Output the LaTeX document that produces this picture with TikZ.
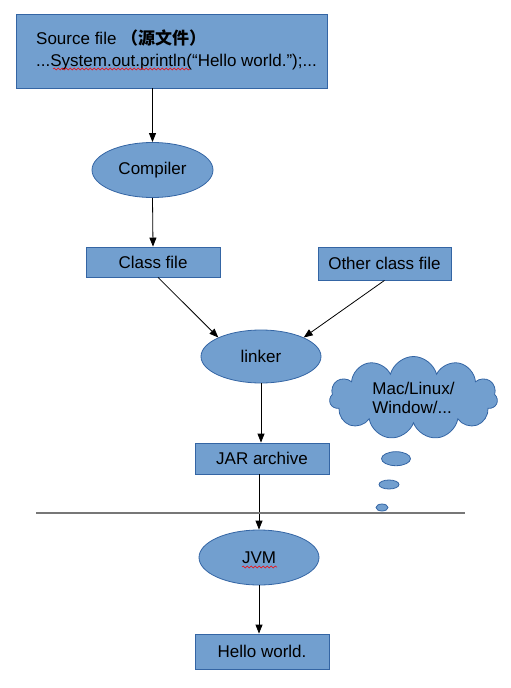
\documentclass[tikz,border=0pt]{standalone}
\usepackage{fontspec}
\setmainfont{Liberation Sans}
\newfontfamily\cjk{Noto Sans CJK SC}
\usetikzlibrary{shapes.geometric,shapes.symbols,arrows.meta,decorations.pathmorphing}
\definecolor{fillb}{HTML}{729FCF}
\definecolor{edgeb}{HTML}{3465A4}
\definecolor{rulegray}{HTML}{777777}
\begin{document}
\begin{tikzpicture}[x=1pt,y=-1pt,
  font=\fontsize{17}{22}\selectfont,
  box/.style={draw=edgeb, fill=fillb, rectangle, inner sep=0pt, line width=0.8pt},
  ell/.style={draw=edgeb, fill=fillb, ellipse, inner sep=0pt, line width=0.8pt},
  arr/.style={-{Triangle[length=9pt,width=7pt]}, black, line width=0.8pt},
  wavy/.style={red, decorate, decoration={snake, amplitude=1pt, segment length=4pt}, line width=0.5pt}]
\useasboundingbox (0,0) rectangle (511,688);

\node[box, minimum width=311, minimum height=74] (src) at (171.5,51) {};
\node[anchor=west, inner sep=0pt, align=left] (srctext) at (36,50)
  {Source file {\cjk\bfseries （源文件）}\\...System.out.println(“Hello world.”);...};

\node[ell, minimum width=121, minimum height=55] (comp) at (152.5,170) {Compiler};
\node[box, minimum width=134, minimum height=30] (cls) at (153,262) {Class file};
\node[box, minimum width=133, minimum height=33] (oth) at (384.5,263.5) {Other class file};
\node[ell, minimum width=120, minimum height=53] (lnk) at (261,356.5) {linker};
\node[box, minimum width=134, minimum height=31] (jar) at (262,458.5) {JAR archive};
\node[ell, minimum width=120, minimum height=55] (jvm) at (259,557.5) {JVM};
\node[box, minimum width=134, minimum height=35] (hello) at (262,651.5) {Hello world.};

\node[cloud, cloud puffs=11, aspect=2.1, draw=edgeb, fill=fillb, line width=0.8pt,
      minimum width=168, minimum height=83, inner sep=0pt, align=left,
      font=\fontsize{17}{19}\selectfont] (cloud) at (413.5,398)
  {Mac/Linux/\\Window/...};
\node[ell, minimum width=29, minimum height=14] (b1) at (396,458.7) {};
\node[ell, minimum width=20, minimum height=9] (b2) at (389,484.5) {};
\node[ell, minimum width=12, minimum height=7] (b3) at (382,507.5) {};

\draw[arr] (src.south -| comp.north) -- (comp.north);
\draw[arr] (comp.south) -- (cls.north);
\draw[arr] ([xshift=5pt]cls.south) -- (lnk.north west);
\draw[arr] (oth.south) -- (lnk.north east);
\draw[arr] (lnk.south) -- (lnk.south |- jar.north);
\draw[arr] (jar.south -| jvm.north) -- (jvm.north);
\draw[arr] (jvm.south) -- (jvm.south |- hello.north);

\coordinate (hl) at (36,513);
\coordinate (hr) at (465,513);
\draw[rulegray, line width=1.2pt] (hl) -- (hr);

\coordinate (w1a) at (53,69);
\coordinate (w1b) at (190,69);
\draw[wavy] (w1a) -- (w1b);
\coordinate (w2a) at (242,567);
\coordinate (w2b) at (277,567);
\draw[wavy] (w2a) -- (w2b);
\end{tikzpicture}
\end{document}
